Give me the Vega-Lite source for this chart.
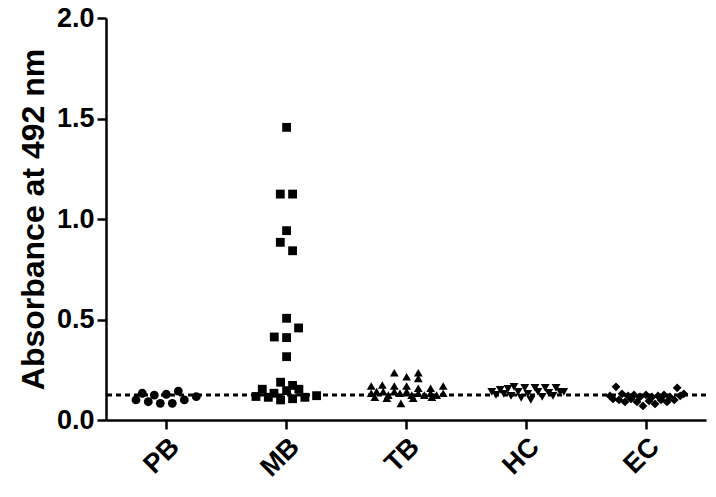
{
  "$schema": "https://vega.github.io/schema/vega-lite/v6.json",
  "width": 600,
  "height": 402,
  "autosize": {"type": "none"},
  "padding": {"left": 106, "top": 18, "right": 10, "bottom": 77},
  "config": {
    "view": {"stroke": null},
    "font": "Liberation Sans",
    "axis": {
      "domainColor": "black", "domainWidth": 2.5, "tickColor": "black", "tickWidth": 2.5,
      "tickSize": 9, "grid": false, "labelColor": "black", "titleColor": "black",
      "labelFont": "Liberation Sans", "labelFontWeight": "bold", "titleFont": "Liberation Sans", "titleFontWeight": "bold"
    }
  },
  "layer": [
    {
      "data": {"values": [{"cutoff": 0.125}]},
      "mark": {"type": "rule", "stroke": "black", "strokeWidth": 3, "strokeDash": [5, 4]},
      "encoding": {
        "y": {"field": "cutoff", "type": "quantitative", "scale": {"domain": [0, 2]}}
      }
    },
    {
      "data": {"values": [
        {"group": "PB", "j": -0.5, "abs": 0.10},
        {"group": "PB", "j": -0.395, "abs": 0.133},
        {"group": "PB", "j": -0.295, "abs": 0.091},
        {"group": "PB", "j": -0.195, "abs": 0.124},
        {"group": "PB", "j": -0.095, "abs": 0.083},
        {"group": "PB", "j": 0.005, "abs": 0.128},
        {"group": "PB", "j": 0.105, "abs": 0.083},
        {"group": "PB", "j": 0.205, "abs": 0.144},
        {"group": "PB", "j": 0.305, "abs": 0.10},
        {"group": "PB", "j": 0.505, "abs": 0.116},

        {"group": "MB", "j": 0.01, "abs": 1.456},
        {"group": "MB", "j": -0.095, "abs": 1.124},
        {"group": "MB", "j": 0.11, "abs": 1.124},
        {"group": "MB", "j": 0.01, "abs": 0.942},
        {"group": "MB", "j": -0.095, "abs": 0.884},
        {"group": "MB", "j": 0.11, "abs": 0.842},
        {"group": "MB", "j": 0.01, "abs": 0.506},
        {"group": "MB", "j": 0.21, "abs": 0.458},
        {"group": "MB", "j": -0.195, "abs": 0.413},
        {"group": "MB", "j": 0.01, "abs": 0.41},
        {"group": "MB", "j": 0.01, "abs": 0.315},
        {"group": "MB", "j": -0.5, "abs": 0.117},
        {"group": "MB", "j": -0.395, "abs": 0.153},
        {"group": "MB", "j": -0.295, "abs": 0.113},
        {"group": "MB", "j": -0.2, "abs": 0.133},
        {"group": "MB", "j": -0.09, "abs": 0.188},
        {"group": "MB", "j": -0.09, "abs": 0.10},
        {"group": "MB", "j": 0.01, "abs": 0.146},
        {"group": "MB", "j": 0.11, "abs": 0.172},
        {"group": "MB", "j": 0.11, "abs": 0.106},
        {"group": "MB", "j": 0.215, "abs": 0.153},
        {"group": "MB", "j": 0.315, "abs": 0.113},
        {"group": "MB", "j": 0.51, "abs": 0.121},

        {"group": "TB", "j": -0.195, "abs": 0.235},
        {"group": "TB", "j": 0.01, "abs": 0.215},
        {"group": "TB", "j": 0.205, "abs": 0.235},
        {"group": "TB", "j": 0.205, "abs": 0.207},
        {"group": "TB", "j": -0.58, "abs": 0.169},
        {"group": "TB", "j": -0.395, "abs": 0.174},
        {"group": "TB", "j": -0.195, "abs": 0.169},
        {"group": "TB", "j": 0.01, "abs": 0.169},
        {"group": "TB", "j": 0.205, "abs": 0.158},
        {"group": "TB", "j": 0.41, "abs": 0.158},
        {"group": "TB", "j": 0.62, "abs": 0.169},
        {"group": "TB", "j": -0.58, "abs": 0.133},
        {"group": "TB", "j": -0.49, "abs": 0.141},
        {"group": "TB", "j": -0.38, "abs": 0.141},
        {"group": "TB", "j": -0.295, "abs": 0.124},
        {"group": "TB", "j": -0.195, "abs": 0.141},
        {"group": "TB", "j": -0.1, "abs": 0.133},
        {"group": "TB", "j": 0.01, "abs": 0.141},
        {"group": "TB", "j": 0.095, "abs": 0.124},
        {"group": "TB", "j": 0.205, "abs": 0.133},
        {"group": "TB", "j": 0.305, "abs": 0.124},
        {"group": "TB", "j": 0.41, "abs": 0.133},
        {"group": "TB", "j": 0.51, "abs": 0.124},
        {"group": "TB", "j": 0.62, "abs": 0.133},
        {"group": "TB", "j": -0.085, "abs": 0.083},
        {"group": "TB", "j": -0.52, "abs": 0.113},
        {"group": "TB", "j": -0.32, "abs": 0.108},
        {"group": "TB", "j": 0.12, "abs": 0.108},
        {"group": "TB", "j": 0.43, "abs": 0.113},

        {"group": "HC", "j": -0.57, "abs": 0.14},
        {"group": "HC", "j": -0.5, "abs": 0.125},
        {"group": "HC", "j": -0.43, "abs": 0.15},
        {"group": "HC", "j": -0.37, "abs": 0.13},
        {"group": "HC", "j": -0.3, "abs": 0.155},
        {"group": "HC", "j": -0.25, "abs": 0.12},
        {"group": "HC", "j": -0.2, "abs": 0.165},
        {"group": "HC", "j": -0.13, "abs": 0.14},
        {"group": "HC", "j": -0.08, "abs": 0.11},
        {"group": "HC", "j": -0.02, "abs": 0.16},
        {"group": "HC", "j": 0.03, "abs": 0.13},
        {"group": "HC", "j": 0.08, "abs": 0.10},
        {"group": "HC", "j": 0.15, "abs": 0.16},
        {"group": "HC", "j": 0.2, "abs": 0.14},
        {"group": "HC", "j": 0.27, "abs": 0.115},
        {"group": "HC", "j": 0.32, "abs": 0.16},
        {"group": "HC", "j": 0.38, "abs": 0.135},
        {"group": "HC", "j": 0.45, "abs": 0.12},
        {"group": "HC", "j": 0.5, "abs": 0.16},
        {"group": "HC", "j": 0.57, "abs": 0.14},
        {"group": "HC", "j": 0.63, "abs": 0.14},

        {"group": "EC", "j": -0.6, "abs": 0.12},
        {"group": "EC", "j": -0.55, "abs": 0.105},
        {"group": "EC", "j": -0.5, "abs": 0.165},
        {"group": "EC", "j": -0.45, "abs": 0.10},
        {"group": "EC", "j": -0.4, "abs": 0.13},
        {"group": "EC", "j": -0.35, "abs": 0.09},
        {"group": "EC", "j": -0.3, "abs": 0.12},
        {"group": "EC", "j": -0.25, "abs": 0.105},
        {"group": "EC", "j": -0.2, "abs": 0.125},
        {"group": "EC", "j": -0.15, "abs": 0.09},
        {"group": "EC", "j": -0.1, "abs": 0.115},
        {"group": "EC", "j": -0.05, "abs": 0.07},
        {"group": "EC", "j": 0.0, "abs": 0.125},
        {"group": "EC", "j": 0.05, "abs": 0.095},
        {"group": "EC", "j": 0.1, "abs": 0.115},
        {"group": "EC", "j": 0.15, "abs": 0.08},
        {"group": "EC", "j": 0.2, "abs": 0.12},
        {"group": "EC", "j": 0.25, "abs": 0.10},
        {"group": "EC", "j": 0.3, "abs": 0.125},
        {"group": "EC", "j": 0.35, "abs": 0.09},
        {"group": "EC", "j": 0.4, "abs": 0.115},
        {"group": "EC", "j": 0.47, "abs": 0.10},
        {"group": "EC", "j": 0.52, "abs": 0.16},
        {"group": "EC", "j": 0.57, "abs": 0.12},
        {"group": "EC", "j": 0.63, "abs": 0.13}
      ]},
      "mark": {"type": "point", "filled": true, "opacity": 1, "color": "black", "size": 78},
      "encoding": {
        "x": {
          "field": "group", "type": "nominal", "sort": ["PB", "MB", "TB", "HC", "EC"],
          "scale": {"type": "band", "paddingInner": 0, "paddingOuter": 0},
          "axis": {"title": null, "labelAngle": -45, "labelFontSize": 27, "labelPadding": 4, "labelAlign": "right", "labelBaseline": "top"}
        },
        "xOffset": {"field": "j", "type": "quantitative", "scale": {"domain": [-1, 1]}},
        "y": {
          "field": "abs", "type": "quantitative",
          "scale": {"domain": [0, 2], "nice": false},
          "axis": {"title": "Absorbance at 492 nm", "values": [0, 0.5, 1, 1.5, 2], "format": ".1f",
                   "labelFontSize": 27, "titleFontSize": 32, "labelPadding": 3, "titlePadding": 6}
        },
        "shape": {
          "field": "group", "type": "nominal",
          "scale": {"domain": ["PB", "MB", "TB", "HC", "EC"], "range": ["circle", "square", "triangle-up", "triangle-down", "diamond"]},
          "legend": null
        }
      }
    }
  ]
}
